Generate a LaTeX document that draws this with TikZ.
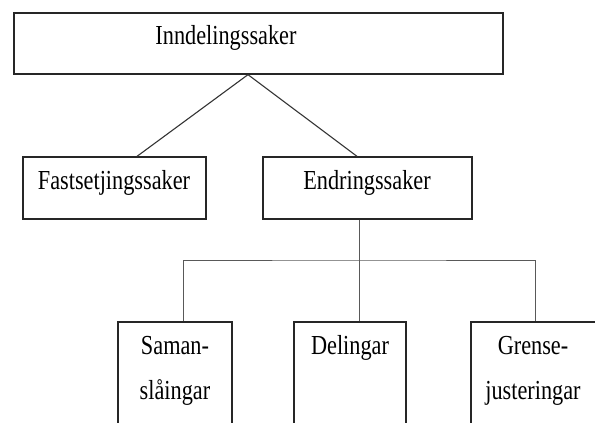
\documentclass[tikz,border=0pt]{standalone}
\usepackage{fontspec}
\newfontfamily\narrowserif[FakeStretch=0.81]{Liberation Serif}
\usetikzlibrary{positioning}

\begin{document}
\begin{tikzpicture}[
    x=1pt, y={(0pt,-1pt)},
    box/.style={draw=black!85, line width=1.3pt, rectangle, inner sep=0pt},
    conn/.style={draw=black!80, line width=1.1pt},
    tree/.style={draw=black!65, line width=1pt},
    lbl/.style={inner sep=0pt, align=center, text=black,
        font=\narrowserif\fontsize{27.5}{45}\selectfont}
]

\useasboundingbox (0,0) rectangle (595,423);
\clip (0,0) rectangle (595,423);

% Boxes
\node[box, minimum width=489pt, minimum height=61pt] (top) at (258.5,43.5) {};
\node[box, minimum width=183pt, minimum height=62pt] (fast) at (114.5,188) {};
\node[box, minimum width=209pt, minimum height=62pt] (endr) at (367.5,188) {};
\node[box, minimum width=114pt, minimum height=118pt] (saman) at (175,381) {};
\node[box, minimum width=112pt, minimum height=118pt] (deling) at (350,381) {};
\node[box, minimum width=149pt, minimum height=118pt] (grense) at (545.5,381) {};

% Labels
\node[lbl] (topText) at (226,38) {Inndelingssaker};
\node[lbl] (fastText) at (114,183) {Fastsetjingssaker};
\node[lbl] (endrText) at (367,183) {Endringssaker};
\node[lbl] (samanText) at (175,370.5) {Saman-\\slåingar};
\node[lbl] (delingText) at (350,348) {Delingar};
\node[lbl] (grenseText) at (533,370.5) {Grense-\\justeringar};

% Connectors
\coordinate (apex) at ([xshift=-10.5pt]top.south);
\draw[conn] (apex) -- ([xshift=22.5pt]fast.north);
\draw[conn] (apex) -- ([xshift=-10.5pt]endr.south |- endr.north);

\coordinate (bar) at (359,260);
\draw[tree] ([xshift=-8.5pt]endr.south) -- ([xshift=9pt]deling.north);
\draw[tree] ([xshift=8pt]saman.north) |- (bar) -| ([xshift=-10.5pt]grense.north);

\end{tikzpicture}
\end{document}
